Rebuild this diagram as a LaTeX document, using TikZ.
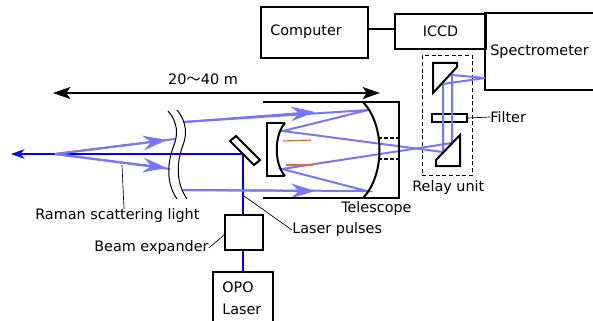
\documentclass[tikz,border=0pt]{standalone}
\usepackage{fontspec}
\setmainfont{DejaVu Sans}
\newfontfamily\cjk{Noto Sans CJK JP}
\usetikzlibrary{arrows.meta, positioning, calc}
\tikzset{
  label_font/.style = {font=\fontsize{10.8pt}{12pt}\selectfont},
  thick_line/.style = {line width=1.5pt, draw=black},
  thin_line/.style = {line width=0.5pt, draw=black},
  laser_beam/.style = {line width=1.5pt, draw=beam_blue},
  scatter_ray/.style = {line width=1.5pt, draw=ray_violet, line join=miter},
  ray_tip/.style = {-{Stealth[length=18pt, width=11pt, inset=6pt]}}
}
\tikzset{
  box/.style = {thick_line, label_font, align=center, inner sep=0, anchor=north west},
  caption/.style = {label_font, inner sep=0, align=left},
  orange_mark/.style = {line width=0.9pt, draw=mark_orange}
}
\definecolor{beam_blue}{RGB}{0,0,240}
\definecolor{ray_violet}{RGB}{118,118,255}
\definecolor{mark_orange}{RGB}{215,110,50}
\begin{document}
\begin{tikzpicture}[x=0.75pt, y=-0.75pt]
        \useasboundingbox (0,0) rectangle (593,321);

        % Boxes
        \node[box, minimum width=80.25pt, minimum height=38.25pt] at (260,6) (computer) {};
        \node[caption, anchor=west] at (270,32) (computer_label) {Computer};
        \node[box, minimum width=68.25pt, minimum height=26.25pt] at (394,13) (iccd) {ICCD};
        \node[box, minimum width=28.5pt, minimum height=26.25pt] at (224,214) (expander) {};
        \node[caption, anchor=west] at (490,52) (spectrometer) {Spectrometer};
        \node[caption, align=left, anchor=north west] at (222,282) (opo) {OPO\\[4.5pt]Laser};
        \coordinate (spec_nw) at (485,13);
        \coordinate (spec_sw) at (485,90);
        \coordinate (opo_nw) at (213,272);
        \coordinate (opo_ne) at (273,272);
        \draw[thick_line] (593,13) -- (spec_nw) -- (spec_sw) -- (593,90);
        \draw[thick_line] (213,321) -- (opo_nw) -- (opo_ne) -- (273,321);
        \draw[thick_line] (computer.east |- 0,29) -- (iccd.west |- 0,29);

        % Captions
        \node[label_font, inner sep=0] at (203,79) (distance) {20{\cjk ～}40 m};
        \node[caption, anchor=west] at (35,216) (raman) {Raman scattering light};
        \node[caption, anchor=west] at (292,230) (pulses) {Laser pulses};
        \node[caption, anchor=west] at (94,248) (expander_label) {Beam expander};
        \node[caption, anchor=west] at (341,209) (telescope_label) {Telescope};
        \node[caption, anchor=west] at (412,188) (relay_label) {Relay unit};
        \node[caption, anchor=west] at (490,117) (filter_label) {Filter};

        % Relay unit
        \node[draw, densely dashed, line width=0.5pt, inner sep=0, minimum width=37.5pt, minimum height=90pt, anchor=north west] at (422,55) (relay) {};
        \node[thick_line, draw, inner sep=0, minimum width=26.25pt, minimum height=6pt, anchor=north west] at (431,113) (filter) {};

        % Distance arrow
        \coordinate (far_end) at (53,93);
        \coordinate (near_end) at (380,93);
        \draw[line width=1.5pt, {Stealth[length=13pt, width=9pt, inset=3pt]}-{Stealth[length=13pt, width=9pt, inset=3pt]}] (far_end) -- (near_end);

        % Laser path
        \coordinate (sky) at (11,154);
        \coordinate (fold) at (243,154);
        \draw[laser_beam, -{Stealth[length=10pt, width=7pt, inset=3pt]}] (fold) -- (sky);
        \draw[laser_beam] (fold) -- (expander.north -| fold);
        \draw[laser_beam] (expander.south -| fold) -- (opo_nw -| fold);

        % Scattered rays
        \coordinate (focus) at (55,154);
        \coordinate (top_break) at (175,139);
        \coordinate (low_break) at (170,169);
        \coordinate (top_in) at (184,122);
        \coordinate (low_in) at (183,190);
        \coordinate (top_tip) at (315,112);
        \coordinate (low_tip) at (315,191);
        \coordinate (top_primary) at (368,110);
        \coordinate (low_primary) at (367,191);
        \coordinate (top_secondary) at (283,131);
        \coordinate (low_secondary) at (282,169);
        \coordinate (upper_low) at (452,143);
        \coordinate (upper_high) at (452,75);
        \coordinate (lower_low) at (443,152);
        \coordinate (lower_high) at (443,84);
        \coordinate (slit) at (485,78);
        \draw[scatter_ray] (focus) -- (top_break);
        \draw[scatter_ray] (focus) -- (low_break);
        \draw[scatter_ray, ray_tip] (focus) -- (167,140);
        \draw[scatter_ray, ray_tip] (focus) -- (167,168);
        \draw[scatter_ray] (top_in) -- (top_primary) -- (top_secondary) -- (lower_low) -- (lower_high) -- (slit);
        \draw[scatter_ray] (low_in) -- (low_primary) -- (low_secondary) -- (upper_low) -- (upper_high) -- (slit);
        \draw[scatter_ray, ray_tip] (top_in) -- (top_tip);
        \draw[scatter_ray, ray_tip] (low_in) -- (low_tip);
        \draw[orange_mark] (283,141) -- (311,140);
        \draw[orange_mark] (286,165) -- (313,165);

        % Optics
        \draw[thick_line, fill=white] (236,136) -- (260,160) -- (254,165) -- (230,141) -- cycle;
        \draw[thick_line] (285,123) -- (267,123) -- (267,176) -- (285,176);
        \draw[thick_line] (285,123) .. controls (274,135) and (274,164) .. (285,176);
        \draw[thick_line] (263,102) -- (399,102) -- (399,198) -- (263,198);
        \draw[thick_line] (363,102) .. controls (385,125) and (385,175) .. (363,198);
        \draw[thick_line, dash pattern=on 3pt off 1.5pt] (378,138) -- (399,138);
        \draw[thick_line, dash pattern=on 3pt off 1.5pt] (378,159) -- (399,159);
        \draw[thick_line] (433,63) -- (457,63) -- (457,67) -- (433,93) -- cycle;
        \draw[thick_line] (460,135) -- (460,166) -- (436,166) -- (436,160) -- cycle;

        % Path breaks
        \draw[thin_line, line width=0.75pt] (168,111) .. controls (178,122) and (178,135) .. (174,145) .. controls (169,158) and (164,180) .. (177,199);
        \draw[thin_line, line width=0.75pt] (177,110) .. controls (187,122) and (187,135) .. (183,145) .. controls (178,158) and (174,180) .. (187,199);

        % Leaders
        \draw[thin_line] (122,165) -- (raman.north -| 124,0);
        \draw[thin_line] (244,196) -- (pulses.west);
        \draw[thin_line] (expander_label.east) -- (expander.west |- 0,235);
        \draw[thin_line] (filter.east) -- (filter_label.west);
\end{tikzpicture}
\end{document}
